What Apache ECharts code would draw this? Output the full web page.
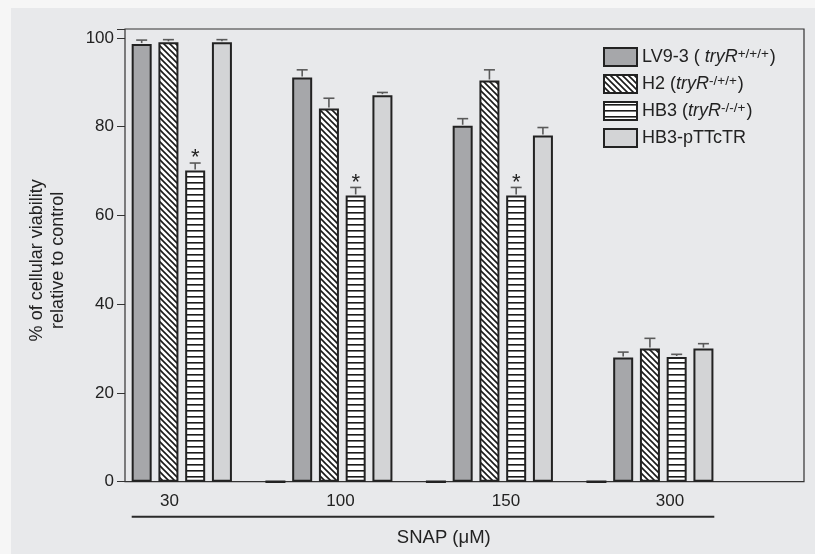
<!DOCTYPE html>
<html>
<head>
<meta charset="utf-8">
<script src="https://cdn.jsdelivr.net/npm/echarts@6/dist/echarts.min.js"></script>
<style>
html,body{margin:0;padding:0;background:#f6f6f6;}
#c{width:815px;height:554px;}
</style>
</head>
<body>
<div id="c"></div>
<script>
// ---- data ----
const categories = ['30', '100', '150', '300'];
const seriesNames = ['LV9-3', 'H2', 'HB3', 'HB3-pTTcTR'];
const lv93 = [98.6, 91.1, 80.2, 28.0];
const h2 = [99.0, 84.1, 90.4, 30.0];
const hb3 = [70.1, 64.5, 64.5, 28.1];
const pttctr = [99.0, 87.1, 78.0, 30.0];
const lv93Err = [0.9, 1.7, 1.6, 1.2];
const h2Err = [0.6, 2.3, 2.4, 2.3];
const hb3Err = [1.7, 1.8, 1.8, 0.6];
const pttctrErr = [0.6, 0.6, 1.8, 1.1];
const hb3Significant = [true, true, true, false];
const zeroMarker = [0, 0, 0, '-'];
const yTicks = [0, 20, 40, 60, 80, 100];
const legendGenotype = ['+/+/+', '-/+/+', '-/-/+', ''];

const FONT = '"Liberation Sans", Arial, Helvetica, sans-serif';

function makePattern(kind) {
  const c = document.createElement('canvas');
  if (kind === 'diag') {
    const n = 6;
    c.width = n; c.height = n;
    const g = c.getContext('2d');
    g.fillStyle = '#ffffff'; g.fillRect(0, 0, n, n);
    g.strokeStyle = '#1a1a1a'; g.lineWidth = 1.6;
    g.beginPath();
    g.moveTo(-1, -1); g.lineTo(n + 1, n + 1);
    g.moveTo(-1, n - 1); g.lineTo(1, n + 1);
    g.moveTo(n - 1, -1); g.lineTo(n + 1, 1);
    g.stroke();
  } else {
    c.width = 4; c.height = 6;
    const g = c.getContext('2d');
    g.fillStyle = '#ffffff'; g.fillRect(0, 0, 4, 6);
    g.fillStyle = '#1a1a1a'; g.fillRect(0, 2, 4, 1.6);
  }
  return { image: c, repeat: 'repeat' };
}

const diag = makePattern('diag');
const horiz = makePattern('horiz');

const barCommon = {
  type: 'bar', xAxisIndex: 0, yAxisIndex: 0,
  barWidth: 20, barGap: '33.75%', barCategoryGap: 6.75,
  z: 2
};
const border = { borderColor: '#222', borderWidth: 2 };

const valueSets = [lv93, h2, hb3, pttctr];
const errSets = [lv93Err, h2Err, hb3Err, pttctrErr];
const errData = [];
valueSets.forEach((vals, s) => {
  vals.forEach((v, i) => {
    errData.push([i, v, errSets[s][i], s, (s === 2 && hb3Significant[i]) ? 1 : 0]);
  });
});

const chart = echarts.init(document.getElementById('c'), null, { renderer: 'canvas' });

function legendFormatter(name) {
  const idx = seriesNames.indexOf(name);
  if (idx === 0) return '{n|LV9-3 ( }{i|tryR}{s|' + legendGenotype[0] + '}{n|)}';
  if (idx === 1) return '{n|H2 (}{i|tryR}{s|' + legendGenotype[1] + '}{n|)}';
  if (idx === 2) return '{n|HB3 (}{i|tryR}{s|' + legendGenotype[2] + '}{n|)}';
  return '{n|' + name + '}';
}

const option = {
  backgroundColor: '#f6f6f6',
  animation: false,
  textStyle: { fontFamily: FONT },
  graphic: [
    { type: 'rect', shape: { x: 11, y: 8, width: 804, height: 546 }, style: { fill: '#e8e9eb' }, z: -10, silent: true },
    { type: 'line', shape: { x1: 131.7, y1: 516.7, x2: 714.3, y2: 516.7 }, style: { stroke: '#2a2a2a', lineWidth: 2 }, z: 5 }
  ],
  legend: {
    data: seriesNames,
    orient: 'vertical',
    left: 598, top: 42,
    itemWidth: 33, itemHeight: 18, itemGap: 7,
    icon: 'rect',
    formatter: legendFormatter,
    textStyle: {
      color: '#222', fontFamily: FONT, fontSize: 18,
      rich: {
        n: { fontSize: 18, color: '#222', fontFamily: FONT, lineHeight: 20 },
        i: { fontSize: 18, color: '#222', fontFamily: FONT, fontStyle: 'italic', lineHeight: 20 },
        s: { fontSize: 13.5, color: '#222', fontFamily: FONT, verticalAlign: 'top', lineHeight: 20, padding: [0, 1, 5, 0] }
      }
    }
  },
  grid: [
    { left: 128.3, width: 642, top: 29, bottom: 72.3, show: false },
    { left: 125, right: 11, top: 29, bottom: 72.3, show: true, borderColor: '#333', borderWidth: 1.2, backgroundColor: 'transparent' }
  ],
  xAxis: [
    {
      type: 'category', gridIndex: 0, data: categories,
      axisLine: { show: false }, axisTick: { show: false },
      axisLabel: {
        color: '#222', fontSize: 17, fontFamily: FONT, margin: 11,
        formatter: (v, i) => '{l' + i + '|' + v + '}',
        rich: {
          l0: { fontSize: 17, padding: [0, 78, 0, 0] },
          l1: { fontSize: 17, padding: [0, 57, 0, 0] },
          l2: { fontSize: 17, padding: [0, 47, 0, 0] },
          l3: { fontSize: 17, padding: [0, 40, 0, 0] }
        }
      },
      name: 'SNAP (μM)', nameLocation: 'middle', nameGap: 47,
      nameTextStyle: { color: '#222', fontSize: 18.5, fontFamily: FONT, padding: [0, 11, 0, 0] }
    },
    { type: 'value', gridIndex: 1, show: false, min: 0, max: 1 }
  ],
  yAxis: [
    { type: 'value', gridIndex: 0, min: 0, max: 102, show: false },
    {
      type: 'value', gridIndex: 1, min: 0, max: 102, interval: 20,
      axisLine: { show: false },
      axisTick: { show: true, inside: false, length: 8, lineStyle: { color: '#333', width: 1 } },
      splitLine: { show: false },
      axisLabel: {
        color: '#222', fontSize: 17, fontFamily: FONT, margin: 11,
        formatter: v => (yTicks.indexOf(v) >= 0 ? String(v) : '')
      },
      name: '% of cellular viability\nrelative to control',
      nameLocation: 'middle', nameRotate: 90, nameGap: 56,
      nameTextStyle: { color: '#222', fontSize: 18, fontFamily: FONT, lineHeight: 21, padding: [0, 10, 0, 0] }
    }
  ],
  series: [
    Object.assign({}, barCommon, { name: seriesNames[0], data: lv93, itemStyle: Object.assign({ color: '#a6a7aa' }, border) }),
    Object.assign({}, barCommon, { name: seriesNames[1], data: h2, itemStyle: Object.assign({ color: diag }, border) }),
    Object.assign({}, barCommon, { name: seriesNames[2], data: hb3, itemStyle: Object.assign({ color: horiz }, border) }),
    Object.assign({}, barCommon, { name: seriesNames[3], data: pttctr, itemStyle: Object.assign({ color: '#d3d4d6' }, border) }),
    Object.assign({}, barCommon, { name: 'gap', data: ['-', '-', '-', '-'], itemStyle: { color: 'transparent' } }),
    Object.assign({}, barCommon, { name: 'marker', data: zeroMarker, itemStyle: { color: '#222', borderColor: '#222', borderWidth: 2.5 } }),
    {
      type: 'custom', name: 'errors', xAxisIndex: 0, yAxisIndex: 0, z: 3,
      data: errData,
      encode: { x: 0, y: 1 },
      renderItem: function (params, api) {
        const cat = api.value(0), v = api.value(1), e = api.value(2), s = api.value(3), sig = api.value(4);
        const band = api.size([1, 0])[0];
        const base = api.coord([cat, v]);
        const top = api.coord([cat, v + e]);
        const x = base[0] + (s - 2.5) * band / 6;
        const children = [
          { type: 'line', shape: { x1: x, y1: base[1] - 1, x2: x, y2: top[1] }, style: { stroke: '#5a5a5a', lineWidth: 1.6 } },
          { type: 'line', shape: { x1: x - 5.5, y1: top[1], x2: x + 5.5, y2: top[1] }, style: { stroke: '#5a5a5a', lineWidth: 1.6 } }
        ];
        if (sig) {
          children.push({ type: 'text', style: { text: '*', x: x, y: top[1] + 6, align: 'center', verticalAlign: 'bottom', fontSize: 22, fontFamily: FONT, fill: '#222' } });
        }
        return { type: 'group', children: children };
      }
    }
  ]
};
chart.setOption(option);
</script>
</body>
</html>
